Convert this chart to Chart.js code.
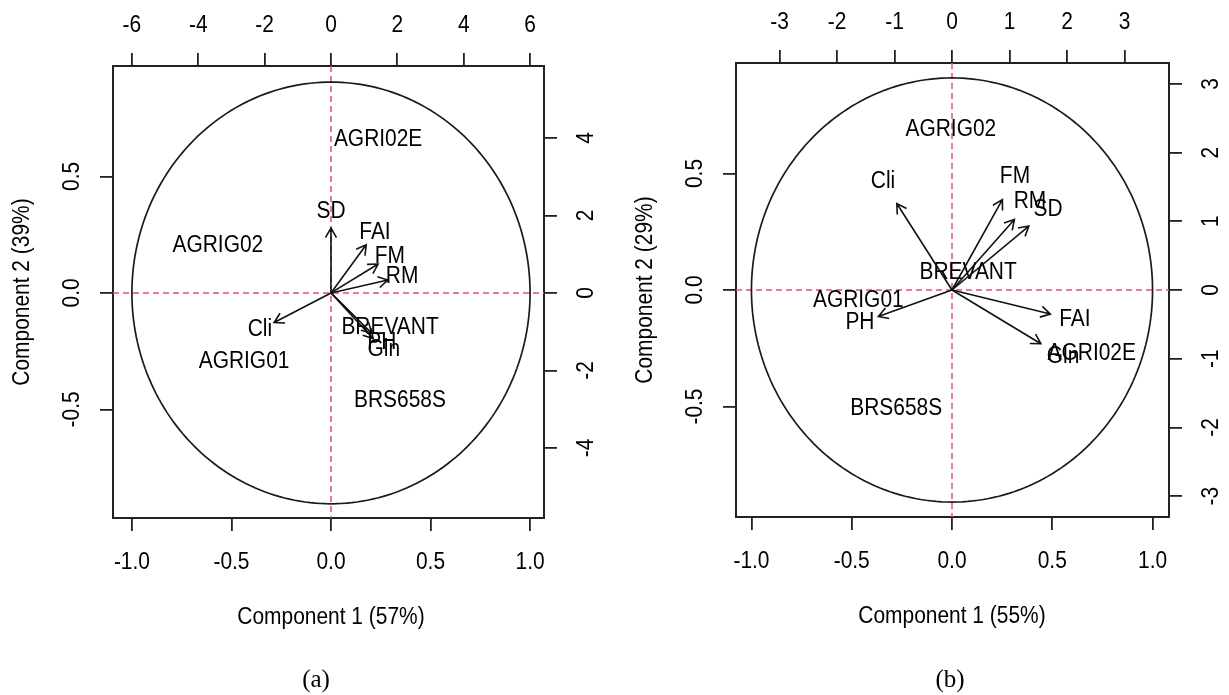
<!DOCTYPE html>
<html>
<head>
<meta charset="utf-8">
<script src="https://cdn.jsdelivr.net/npm/chart.js@4.4.1/dist/chart.umd.min.js"></script>
<style>
    body { margin: 0; background: #fff; width: 1229px; height: 695px; overflow: hidden; position: relative; }
    canvas { position: absolute; top: 0; }
    #chartA { left: 0; }
    #chartB { left: 610px; }
</style>
</head>
<body>
<canvas id="chartA" width="610" height="695"></canvas>
<canvas id="chartB" width="619" height="695"></canvas>
<script>
// ---- panel (a) ----
const varNamesA = ['SD', 'FAI', 'FM', 'RM', 'Cli', 'PH', 'Gln'];
const varXA = [0.000, 0.221, 0.296, 0.357, -0.357, 0.255, 0.265];
const varYA = [0.348, 0.258, 0.155, 0.069, -0.159, -0.215, -0.245];
const obsNamesA = ['AGRI02E', 'AGRIG02', 'AGRIG01', 'BREVANT', 'BRS658S'];
const obsXA = [1.42, -3.41, -2.62, 1.78, 2.08];
const obsYA = [3.97, 1.21, -1.78, -0.90, -2.79];

// ---- panel (b) ----
const varNamesB = ['Cli', 'FM', 'RM', 'SD', 'PH', 'FAI', 'Gln'];
const varXB = [-0.344, 0.314, 0.389, 0.479, -0.459, 0.613, 0.554];
const varYB = [0.464, 0.485, 0.378, 0.343, -0.142, -0.129, -0.288];
const obsNamesB = ['AGRIG02', 'BREVANT', 'AGRIG01', 'AGRI02E', 'BRS658S'];
const obsXB = [-0.02, 0.28, -1.63, 2.43, -0.97];
const obsYB = [2.34, 0.25, -0.15, -0.92, -1.72];

// tick labels
const ticksX = [-1, -0.5, 0, 0.5, 1];
const ticksY = [-0.5, 0, 0.5];
const ticksTopA = [-6, -4, -2, 0, 2, 4, 6];
const ticksRightA = [-4, -2, 0, 2, 4];
const ticksTopB = [-3, -2, -1, 0, 1, 2, 3];
const ticksRightB = [-3, -2, -1, 0, 1, 2, 3];

const FONT = '23px "Liberation Sans", Arial, sans-serif';
const INK = '#000';

// text is a bit narrow in the original, squeeze glyphs along the reading direction
function drawText(ctx, s, x, y, rot, squeeze) {
    ctx.save();
    ctx.translate(x, y);
    if (rot) ctx.rotate(rot);
    ctx.scale(squeeze || 0.91, 1);
    ctx.fillText(s, 0, 0);
    ctx.restore();
}

const biplot = {
    id: 'biplot',
    afterDatasetsDraw(chart, args, o) {
        const ctx = chart.ctx, a = chart.chartArea, s = chart.scales;
        const x0 = s.x.getPixelForValue(0), y0 = s.y.getPixelForValue(0);

        ctx.save();
        ctx.beginPath();
        ctx.rect(a.left, a.top, a.right - a.left, a.bottom - a.top);
        ctx.clip();

        // dashed zero lines
        ctx.strokeStyle = '#DF536B';
        ctx.lineWidth = 1.5;
        ctx.setLineDash([6, 4]);
        ctx.beginPath();
        ctx.moveTo(a.left, y0); ctx.lineTo(a.right, y0);
        ctx.moveTo(x0, a.top); ctx.lineTo(x0, a.bottom);
        ctx.stroke();
        ctx.setLineDash([]);

        // correlation circle
        ctx.strokeStyle = '#1a1a1a';
        ctx.lineWidth = 1.7;
        ctx.beginPath();
        for (let i = 0; i <= 240; i++) {
            const t = i / 240 * 2 * Math.PI;
            const px = s.x.getPixelForValue(Math.cos(t));
            const py = s.y.getPixelForValue(o.circleY * Math.sin(t));
            if (i) ctx.lineTo(px, py); else ctx.moveTo(px, py);
        }
        ctx.stroke();
        ctx.restore();

        ctx.save();
        ctx.font = FONT;
        ctx.fillStyle = INK;
        ctx.textAlign = 'center';
        ctx.textBaseline = 'middle';

        // observation labels
        const obs = chart.getDatasetMeta(0);
        obs.data.forEach((p, i) => drawText(ctx, chart.data.datasets[0].labels[i], p.x, p.y));

        // variable arrows (drawn to 80% of the loading, label at the loading)
        const vars = chart.data.datasets[1];
        ctx.strokeStyle = '#111';
        ctx.lineWidth = 1.6;
        vars.data.forEach(d => {
            const tx = s.x.getPixelForValue(0.8 * d.x), ty = s.y.getPixelForValue(0.8 * d.y);
            const ang = Math.atan2(ty - y0, tx - x0), L = 11, h = Math.PI / 6;
            ctx.beginPath();
            ctx.moveTo(x0, y0); ctx.lineTo(tx, ty);
            ctx.moveTo(tx - L * Math.cos(ang - h), ty - L * Math.sin(ang - h));
            ctx.lineTo(tx, ty);
            ctx.lineTo(tx - L * Math.cos(ang + h), ty - L * Math.sin(ang + h));
            ctx.stroke();
        });
        chart.getDatasetMeta(1).data.forEach((p, i) => drawText(ctx, vars.labels[i], p.x, p.y));

        // tick labels
        s.x.ticks.forEach(t => drawText(ctx, t.value.toFixed(1), s.x.getPixelForValue(t.value), a.bottom + 45));
        s.x2.ticks.forEach(t => drawText(ctx, String(t.value), s.x2.getPixelForValue(t.value), a.top - 40));
        s.y.ticks.forEach(t => drawText(ctx, t.value.toFixed(1), a.left - 40, s.y.getPixelForValue(t.value), -Math.PI / 2));
        s.y2.ticks.forEach(t => drawText(ctx, String(t.value), a.right + 43, s.y2.getPixelForValue(t.value), -Math.PI / 2));

        // axis titles
        drawText(ctx, o.titleX, x0, a.bottom + 100);
        drawText(ctx, o.titleY, a.left - 90, (a.top + a.bottom) / 2, -Math.PI / 2);

        // caption
        ctx.font = '25px "Liberation Serif", "Times New Roman", serif';
        drawText(ctx, o.caption, o.captionX, 680, 0, 1);
        ctx.restore();
    }
};

function axis(pos, min, max, ticks, size) {
    return {
        type: 'linear',
        position: pos,
        min: min,
        max: max,
        afterBuildTicks: s => { s.ticks = ticks.map(v => ({ value: v })); },
        afterFit: s => {
            if (pos === 'top' || pos === 'bottom') s.height = size;
            else s.width = size;
        },
        grid: { drawOnChartArea: false, drawTicks: true, tickLength: 13, color: '#222', lineWidth: 1.8 },
        border: { display: true, color: '#222', width: 2 },
        ticks: { display: false }
    };
}

function renderBiplot(canvasId, p) {
    const ctx = document.getElementById(canvasId).getContext('2d');
    new Chart(ctx, {
        type: 'scatter',
        data: {
            datasets: [
                {
                    label: 'Observations',
                    labels: p.obsNames,
                    data: p.obsX.map((x, i) => ({ x: x, y: p.obsY[i] })),
                    xAxisID: 'x2',
                    yAxisID: 'y2',
                    pointRadius: 0
                },
                {
                    label: 'Variables',
                    labels: p.varNames,
                    data: p.varX.map((x, i) => ({ x: x, y: p.varY[i] })),
                    xAxisID: 'x',
                    yAxisID: 'y',
                    pointRadius: 0
                }
            ]
        },
        options: {
            responsive: false,
            animation: false,
            devicePixelRatio: 1,
            layout: { padding: 0 },
            scales: {
                x: axis('bottom', p.xr[0], p.xr[1], ticksX, p.sizes[0]),
                y: axis('left', p.yr[0], p.yr[1], ticksY, p.sizes[1]),
                x2: axis('top', p.x2r[0], p.x2r[1], p.topTicks, p.sizes[2]),
                y2: axis('right', p.y2r[0], p.y2r[1], p.rightTicks, p.sizes[3])
            },
            plugins: {
                legend: { display: false },
                tooltip: { enabled: false },
                biplot: {
                    titleX: p.titleX,
                    titleY: p.titleY,
                    caption: p.caption,
                    captionX: p.captionX,
                    circleY: p.circleY
                }
            }
        },
        plugins: [biplot]
    });
}

renderBiplot('chartA', {
    varNames: varNamesA, varX: varXA, varY: varYA,
    obsNames: obsNamesA, obsX: obsXA, obsY: obsYA,
    topTicks: ticksTopA, rightTicks: ticksRightA,
    xr: [-1.095, 1.070], yr: [-0.966, 0.974],
    x2r: [-6.57, 6.42], y2r: [-5.81, 5.86],
    sizes: [177, 113, 66, 66],
    titleX: 'Component 1 (57%)', titleY: 'Component 2 (39%)',
    caption: '(a)', captionX: 316, circleY: 0.905
});

renderBiplot('chartB', {
    varNames: varNamesB, varX: varXB, varY: varYB,
    obsNames: obsNamesB, obsX: obsXB, obsY: obsYB,
    topTicks: ticksTopB, rightTicks: ticksRightB,
    xr: [-1.077, 1.082], yr: [-0.974, 0.974],
    x2r: [-3.757, 3.774], y2r: [-3.304, 3.304],
    sizes: [178, 126, 63, 60],
    titleX: 'Component 1 (55%)', titleY: 'Component 2 (29%)',
    caption: '(b)', captionX: 340, circleY: 0.91
});
</script>
</body>
</html>
